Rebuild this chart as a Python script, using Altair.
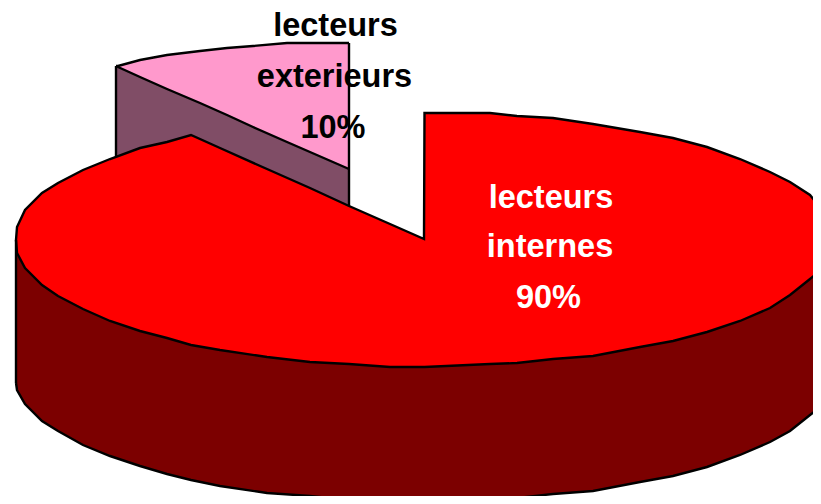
import altair as alt
import pandas as pd

# outline readings from the picture
rim_x   = [16, 17, 25, 42, 58, 83, 110, 140, 167, 191, 220, 267, 310, 349, 390, 424, 424.5, 490, 517, 553, 593, 640, 673, 707, 740, 770, 790, 810, 821]
rim_up  = [240, 227, 210, 193, 183, 170, 159, 148, 142, 135, 148, 169, 188, 206, 224, 239, 113, 113, 116, 118, 124, 132, 138, 147, 159, 172, 182, 195, 208]
rim_mid = [240, 253, 268, 285, 296, 309, 321, 331, 338, 345, 350, 357, 362, 364, 367, 367, 367, 364, 363, 359, 356, 347, 341, 332, 321, 308, 295, 279, 270]
rim_low = [383, 390, 404, 421, 431, 445, 456, 466, 474, 480, 486, 493, 496, 500, 502, 502, 502, 500, 498, 494, 491, 482, 476, 467, 455, 442, 431, 415, 407]

pink_x   = [116, 118, 140, 167, 200, 227, 253, 287, 349]
pink_top = [66, 66, 60, 55, 51, 48, 46, 43, 43]
pink_bot = [66, 67, 77, 89, 103, 115, 127, 142, 169]

side_x   = [116, 191, 349]
side_top = [66, 99, 169]
side_bot = [159, 137, 206]

label_text = ["lecteurs", "exterieurs", "10%", "lecteurs", "internes", "90%"]
label_x    = [335.5, 334.5, 333, 551, 550, 548.5]
label_y    = [36, 87, 138, 208, 257, 308]
label_col  = ["#000000", "#000000", "#000000", "#ffffff", "#ffffff", "#ffffff"]

X = alt.X("x:Q", axis=None, scale=alt.Scale(domain=[8, 813], nice=False, zero=False))
Y = alt.Y("y:Q", axis=None, scale=alt.Scale(domain=[496, 8], nice=False, zero=False))


def area(xs, top, bot, color):
    df = pd.DataFrame({"x": xs, "y": top, "yb": bot})
    return alt.Chart(df).mark_area(color=color, orient="vertical", clip=True).encode(
        x=X, y=Y, y2=alt.Y2("yb"))


def line(xs, ys):
    df = pd.DataFrame({"x": xs, "y": ys, "i": list(range(len(xs)))})
    return alt.Chart(df).mark_line(color="#000000", strokeWidth=2.4, interpolate="linear", clip=True).encode(
        x=X, y=Y, order=alt.Order("i:Q"))


labels = alt.Chart(pd.DataFrame({"x": label_x, "y": label_y, "t": label_text, "c": label_col})).mark_text(
    font="Liberation Sans", fontWeight="bold", fontSize=32.5, align="center", baseline="alphabetic"
).encode(x=X, y=Y, text="t:N", color=alt.Color("c:N", scale=None))

chart = alt.layer(
    area(side_x, side_top, side_bot, "#804d66"),
    area(pink_x, pink_top, pink_bot, "#ff99cc"),
    line(side_x[:1] * 2, [side_top[0], side_bot[0]]),
    line(pink_x, pink_top),
    line(pink_x, pink_bot),
    line(side_x[-1:] * 2, [pink_top[-1], side_bot[-1]]),
    area(rim_x, rim_mid, rim_low, "#7c0000"),
    area(rim_x, rim_up, rim_mid, "#ff0000"),
    line(rim_x, rim_up),
    line(rim_x, rim_mid),
    line(rim_x, rim_low),
    line(rim_x[:1] * 2, [rim_up[0], rim_low[0]]),
    labels,
).properties(
    width=805, height=488, padding=0,
    autosize=alt.AutoSizeParams(type="none"),
    background="#ffffff",
).configure_view(stroke=None)

chart.save("out.html", embed_options={"renderer": "svg", "actions": False})
